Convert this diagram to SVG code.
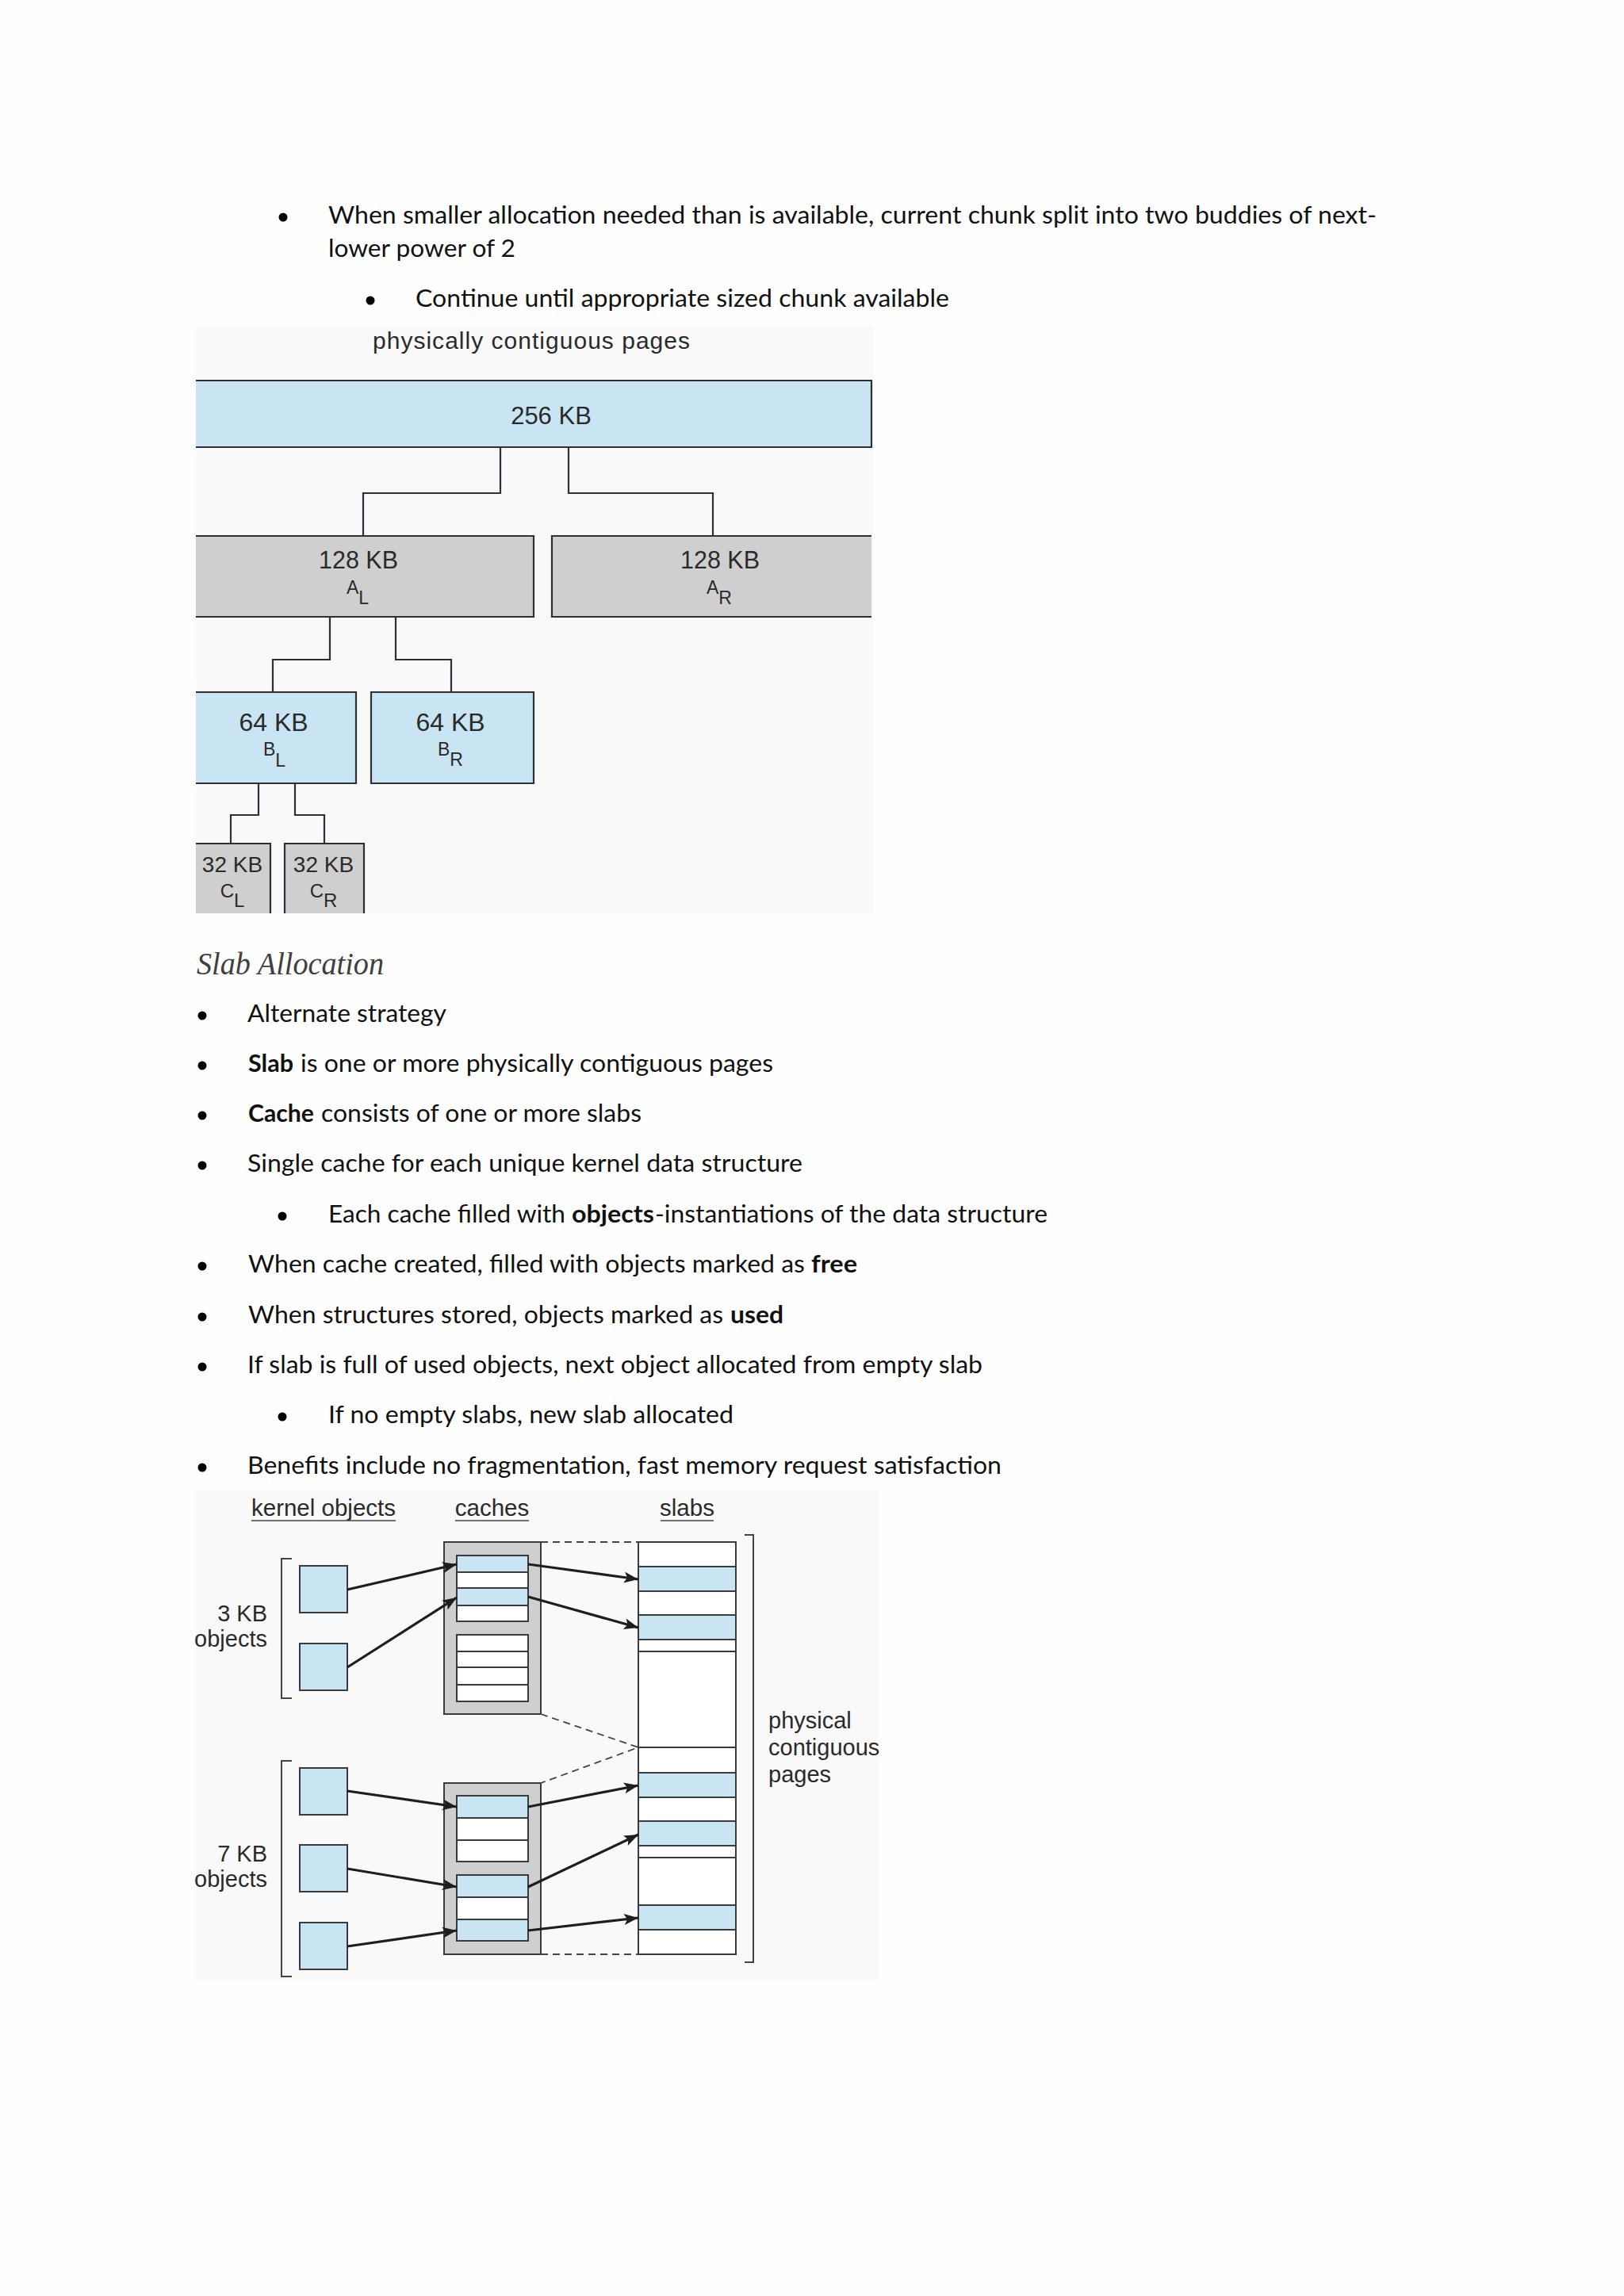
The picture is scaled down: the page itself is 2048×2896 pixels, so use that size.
<svg xmlns="http://www.w3.org/2000/svg" width="2048" height="2896" viewBox="0 0 2048 2896">
<defs>
<style>
.body{font-family:Lato,"Open Sans","Liberation Sans",sans-serif;font-size:30.5px;fill:#111;}
.b{font-weight:bold;}
.head{font-family:"Liberation Serif",serif;font-style:italic;font-size:39px;fill:#404040;}
.fig{font-family:"Liberation Sans",Arial,sans-serif;fill:#2a2a2a;}
.blue{fill:#c9e5f3;}
.gray{fill:#cfcfcf;}
.ln{fill:none;stroke:#2f3035;stroke-width:2.2;}
.st{stroke:#3a3a3e;stroke-width:2;}
.dash{fill:none;stroke:#444;stroke-width:1.8;stroke-dasharray:9 6;}
.arr{fill:none;stroke:#1e1e1e;stroke-width:3.2;marker-end:url(#ah);}
.bul{fill:#000;}
</style>
<marker id="ah" markerUnits="userSpaceOnUse" markerWidth="20" markerHeight="16" refX="18" refY="7" orient="auto">
<path d="M0,0 L18,7 L0,14 L4,7 z" fill="#1e1e1e"/>
</marker>
</defs>
<rect width="2048" height="2896" fill="#fefefe"/>

<g id="text-top">
<circle class="bul" cx="357" cy="274" r="5.5"/>
<text class="body" x="414" y="282" textLength="1322" lengthAdjust="spacingAndGlyphs">When smaller allocation needed than is available, current chunk split into two buddies of next-</text>
<text class="body" x="414" y="324" textLength="236" lengthAdjust="spacingAndGlyphs">lower power of 2</text>
<circle class="bul" cx="467" cy="379" r="5.5"/>
<text class="body" x="524" y="387" textLength="673" lengthAdjust="spacingAndGlyphs">Continue until appropriate sized chunk available</text>
</g>

<g id="buddy-figure">
<rect x="247" y="410" width="854" height="742" fill="#f9f9fa"/>
<text class="fig" x="470" y="440" font-size="30" fill="#333" textLength="400" lengthAdjust="spacing">physically contiguous pages</text>
<g id="connectors-buddy">
<path class="ln" d="M631,564 V622 H458 V676"/>
<path class="ln" d="M717,564 V622 H899 V676"/>
<path class="ln" d="M416,778 V832 H344 V873"/>
<path class="ln" d="M499,778 V832 H569 V873"/>
<path class="ln" d="M326,988 V1028 H291 V1064"/>
<path class="ln" d="M372,988 V1028 H409 V1064"/>
</g>
<g id="n256">
<rect class="blue" x="247" y="480" width="852" height="84"/>
<path class="ln" d="M247,480 H1099 V564 H247"/>
<text class="fig" x="695" y="535" font-size="31" text-anchor="middle">256 KB</text>
</g>
<g id="nAL">
<rect class="gray" x="247" y="676" width="426" height="102"/>
<path class="ln" d="M247,676 H673 V778 H247"/>
<text class="fig" x="452" y="717" font-size="30.5" text-anchor="middle">128 KB</text>
<text class="fig" x="451" y="749" font-size="23" text-anchor="middle">A<tspan dy="13">L</tspan></text>
</g>
<g id="nAR">
<rect class="gray" x="696" y="676" width="403" height="102"/>
<path class="ln" d="M1099,676 H696 V778 H1099"/>
<text class="fig" x="908" y="717" font-size="30.5" text-anchor="middle">128 KB</text>
<text class="fig" x="907" y="749" font-size="23" text-anchor="middle">A<tspan dy="13">R</tspan></text>
</g>
<g id="nBL">
<rect class="blue" x="247" y="873" width="202" height="115"/>
<path class="ln" d="M247,873 H449 V988 H247"/>
<text class="fig" x="345" y="922" font-size="32" text-anchor="middle">64 KB</text>
<text class="fig" x="346" y="953" font-size="23" text-anchor="middle">B<tspan dy="14">L</tspan></text>
</g>
<g id="nBR">
<rect class="blue" x="468" y="873" width="205" height="115"/>
<path class="ln" d="M468,873 H673 V988 H468 Z"/>
<text class="fig" x="568" y="922" font-size="32" text-anchor="middle">64 KB</text>
<text class="fig" x="568" y="953" font-size="23" text-anchor="middle">B<tspan dy="13">R</tspan></text>
</g>
<g id="nCL">
<rect class="gray" x="247" y="1064" width="94" height="88"/>
<path class="ln" d="M247,1064 H341 V1152"/>
<text class="fig" x="293" y="1100" font-size="28" text-anchor="middle">32 KB</text>
<text class="fig" x="293" y="1132" font-size="24" text-anchor="middle">C<tspan dy="12">L</tspan></text>
</g>
<g id="nCR">
<rect class="gray" x="359" y="1064" width="100" height="88"/>
<path class="ln" d="M359,1152 V1064 H459 V1152"/>
<text class="fig" x="408" y="1100" font-size="28" text-anchor="middle">32 KB</text>
<text class="fig" x="408" y="1132" font-size="24" text-anchor="middle">C<tspan dy="12">R</tspan></text>
</g>
</g>

<g id="text-slab">
<text class="head" x="248" y="1229" textLength="236" lengthAdjust="spacingAndGlyphs">Slab Allocation</text>
<circle class="bul" cx="255" cy="1281" r="5.5"/>
<text class="body" x="312" y="1289" textLength="251" lengthAdjust="spacingAndGlyphs">Alternate strategy</text>
<circle class="bul" cx="255" cy="1344" r="5.5"/>
<text class="body b" x="313" y="1352" textLength="57" lengthAdjust="spacingAndGlyphs">Slab</text>
<text class="body" x="379" y="1352" textLength="596" lengthAdjust="spacingAndGlyphs">is one or more physically contiguous pages</text>
<circle class="bul" cx="255" cy="1407" r="5.5"/>
<text class="body b" x="313" y="1415" textLength="83" lengthAdjust="spacingAndGlyphs">Cache</text>
<text class="body" x="405" y="1415" textLength="404" lengthAdjust="spacingAndGlyphs">consists of one or more slabs</text>
<circle class="bul" cx="255" cy="1470" r="5.5"/>
<text class="body" x="312" y="1478" textLength="700" lengthAdjust="spacingAndGlyphs">Single cache for each unique kernel data structure</text>
<circle class="bul" cx="356" cy="1534" r="5.5"/>
<text class="body" x="414" y="1542" textLength="299" lengthAdjust="spacingAndGlyphs">Each cache filled with</text>
<text class="body b" x="721" y="1542" textLength="104" lengthAdjust="spacingAndGlyphs">objects</text>
<text class="body" x="826" y="1542" textLength="495" lengthAdjust="spacingAndGlyphs">-instantiations of the data structure</text>
<circle class="bul" cx="255" cy="1597" r="5.5"/>
<text class="body" x="313" y="1605" textLength="702" lengthAdjust="spacingAndGlyphs">When cache created, filled with objects marked as</text>
<text class="body b" x="1023" y="1605" textLength="58" lengthAdjust="spacingAndGlyphs">free</text>
<circle class="bul" cx="255" cy="1661" r="5.5"/>
<text class="body" x="313" y="1669" textLength="599" lengthAdjust="spacingAndGlyphs">When structures stored, objects marked as</text>
<text class="body b" x="921" y="1669" textLength="67" lengthAdjust="spacingAndGlyphs">used</text>
<circle class="bul" cx="255" cy="1724" r="5.5"/>
<text class="body" x="312" y="1732" textLength="927" lengthAdjust="spacingAndGlyphs">If slab is full of used objects, next object allocated from empty slab</text>
<circle class="bul" cx="356" cy="1787" r="5.5"/>
<text class="body" x="414" y="1795" textLength="511" lengthAdjust="spacingAndGlyphs">If no empty slabs, new slab allocated</text>
<circle class="bul" cx="255" cy="1851" r="5.5"/>
<text class="body" x="312" y="1859" textLength="951" lengthAdjust="spacingAndGlyphs">Benefits include no fragmentation, fast memory request satisfaction</text>
</g>

<g id="slab-figure">
<rect x="247" y="1880" width="861" height="617" fill="#f9f9fa"/>
<g id="headers" class="fig" font-size="29.5" fill="#444">
<text x="408" y="1912" text-anchor="middle">kernel objects</text>
<text x="620.5" y="1912" text-anchor="middle">caches</text>
<text x="866.5" y="1912" text-anchor="middle">slabs</text>
<path d="M317,1918 H499 M574,1918 H667 M833,1918 H900" stroke="#444" stroke-width="1.6" fill="none"/>
</g>
<g id="label-3kb">
<text class="fig" x="337" y="2045" font-size="29" text-anchor="end" fill="#333">3 KB</text>
<text class="fig" x="337" y="2077" font-size="29" text-anchor="end" fill="#333">objects</text>
<path d="M368,1966 H355 V2142 H368" fill="none" stroke="#444" stroke-width="2"/>
</g>
<g id="label-7kb">
<text class="fig" x="337" y="2348" font-size="29" text-anchor="end" fill="#333">7 KB</text>
<text class="fig" x="337" y="2380" font-size="29" text-anchor="end" fill="#333">objects</text>
<path d="M368,2221 H355 V2493 H368" fill="none" stroke="#444" stroke-width="2"/>
</g>
<g id="label-pages">
<path d="M939,1936 H950 V2475 H939" fill="none" stroke="#444" stroke-width="2"/>
<text class="fig" x="969" y="2180" font-size="29" fill="#333">physical</text>
<text class="fig" x="969" y="2214" font-size="29" fill="#333">contiguous</text>
<text class="fig" x="969" y="2248" font-size="29" fill="#333">pages</text>
</g>
<g id="kobj3a"><rect class="blue st" x="378" y="1975" width="60" height="59"/></g>
<g id="kobj3b"><rect class="blue st" x="378" y="2073" width="60" height="59"/></g>
<g id="kobj7a"><rect class="blue st" x="378" y="2230" width="60" height="59"/></g>
<g id="kobj7b"><rect class="blue st" x="378" y="2327" width="60" height="59"/></g>
<g id="kobj7c"><rect class="blue st" x="378" y="2425" width="60" height="59"/></g>
<g id="cache1">
<rect class="gray st" x="560" y="1945" width="122" height="217"/>
<rect class="blue st" x="576" y="1962" width="90" height="21"/>
<rect class="st" fill="#fff" x="576" y="1983" width="90" height="20"/>
<rect class="blue st" x="576" y="2003" width="90" height="22"/>
<rect class="st" fill="#fff" x="576" y="2025" width="90" height="20"/>
<rect class="st" fill="#fff" x="576" y="2062" width="90" height="21"/>
<rect class="st" fill="#fff" x="576" y="2083" width="90" height="20"/>
<rect class="st" fill="#fff" x="576" y="2103" width="90" height="22"/>
<rect class="st" fill="#fff" x="576" y="2125" width="90" height="21"/>
</g>
<g id="cache2">
<rect class="gray st" x="560" y="2249" width="122" height="216"/>
<rect class="blue st" x="576" y="2265" width="90" height="28"/>
<rect class="st" fill="#fff" x="576" y="2293" width="90" height="28"/>
<rect class="st" fill="#fff" x="576" y="2321" width="90" height="27"/>
<rect class="blue st" x="576" y="2365" width="90" height="28"/>
<rect class="st" fill="#fff" x="576" y="2393" width="90" height="28"/>
<rect class="blue st" x="576" y="2421" width="90" height="27"/>
</g>
<g id="slabs">
<rect class="st" fill="#fff" x="805" y="1945" width="123" height="520"/>
<rect class="blue st" x="805" y="1976" width="123" height="31"/>
<rect class="blue st" x="805" y="2037" width="123" height="31"/>
<rect class="blue st" x="805" y="2236" width="123" height="31"/>
<rect class="blue st" x="805" y="2297" width="123" height="31"/>
<rect class="blue st" x="805" y="2403" width="123" height="31"/>
<path d="M805,2083 H928 M805,2204 H928 M805,2343 H928" class="st" fill="none"/>
</g>
<g id="connectors">
<path class="dash" d="M682,1945 H805"/>
<path class="dash" d="M682,2162 L805,2204 L682,2249"/>
<path class="dash" d="M682,2465 H805"/>
<path class="arr" d="M438,2005 L576,1973"/>
<path class="arr" d="M438,2103 L576,2015"/>
<path class="arr" d="M666,1973 L805,1992"/>
<path class="arr" d="M666,2014 L805,2053"/>
<path class="arr" d="M438,2259 L576,2279"/>
<path class="arr" d="M438,2357 L576,2380"/>
<path class="arr" d="M438,2455 L576,2435"/>
<path class="arr" d="M666,2279 L805,2252"/>
<path class="arr" d="M666,2380 L805,2314"/>
<path class="arr" d="M666,2435 L805,2419"/>
</g>
</g>
</svg>
